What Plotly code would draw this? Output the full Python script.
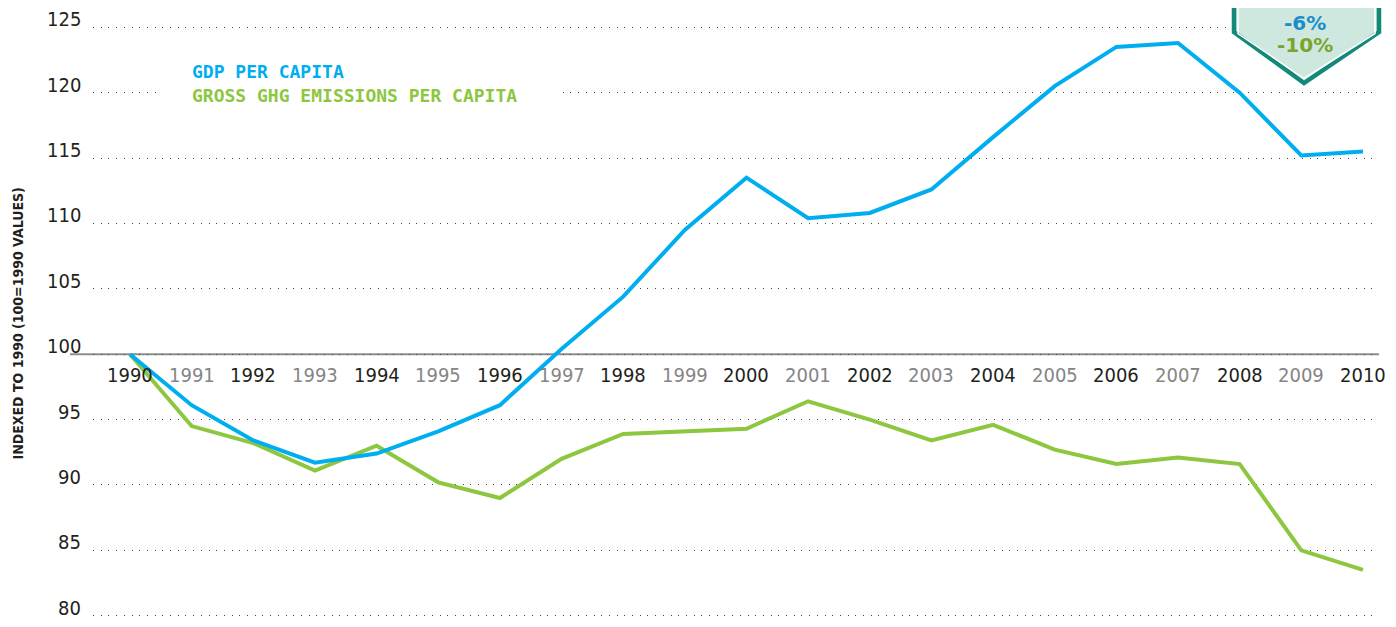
import plotly.graph_objects as go

years = list(range(1990, 2011))
gdp_per_capita = [100, 96.1, 93.4, 91.7, 92.4, 94.1, 96.1, 100.4, 104.4, 109.5, 113.5,
                  110.4, 110.8, 112.6, 116.6, 120.5, 123.5, 123.8, 120.0, 115.2, 115.5]
ghg_per_capita = [100, 94.5, 93.2, 91.1, 93.0, 90.2, 89.0, 92.0, 93.9, 94.1, 94.3,
                  96.4, 95.0, 93.4, 94.6, 92.7, 91.6, 92.1, 91.6, 85.0, 83.5]
y_ticks = [80, 85, 90, 95, 100, 105, 110, 115, 120, 125]
series_names = ["GDP PER CAPITA", "GROSS GHG EMISSIONS PER CAPITA"]
badge_texts = ["-6%", "-10%"]
y_title = "INDEXED TO 1990 (100=1990 VALUES)"

BLUE = "#00aeef"
GREEN = "#8dc63f"
NUM_FONT = "DejaVu Sans Condensed, Roboto, sans-serif"
LBL_FONT = "DejaVu Sans Mono, monospace"

fig = go.Figure()
fig.add_trace(go.Scatter(x=years, y=ghg_per_capita, mode="lines", name=series_names[1],
                         line=dict(color=GREEN, width=4), showlegend=False))
fig.add_trace(go.Scatter(x=years, y=gdp_per_capita, mode="lines", name=series_names[0],
                         line=dict(color=BLUE, width=4), showlegend=False))

OFF = 8  # page body margin
W, H = 1396 - 2 * OFF, 627 - OFF
L, R, T, B = 85, 9, 18, 10
pw, ph = W - L - R, H - T - B

def px_x(p):
    return (p - OFF - L) / pw

def px_y(p):
    return (H - B - (p - OFF)) / ph

shapes = []
shapes.append(dict(type="line", xref="paper", yref="y", x0=px_x(70), x1=1.0, y0=100, y1=100,
                   line=dict(color="#8c8c8c", width=2), layer="below"))
shapes.append(dict(type="rect", xref="paper", yref="paper", x0=px_x(160), x1=px_x(562),
                   y0=px_y(110), y1=px_y(58), fillcolor="white", line=dict(width=0), layer="above"))

def path(pts):
    return "M " + " L ".join(f"{px_x(a):.5f},{px_y(b):.5f}" for a, b in pts) + " Z"

outer = [(1234, -10), (1234, 32), (1304, 83), (1379, 32), (1379, -10)]
inner = [(1238, -10), (1238, 33.5), (1304, 78.5), (1375, 33.5), (1375, -10)]
shapes.append(dict(type="path", xref="paper", yref="paper", path=path(outer),
                   fillcolor="#cfe8df", line=dict(color="#13897a", width=4.5), layer="above"))
shapes.append(dict(type="path", xref="paper", yref="paper", path=path(inner),
                   fillcolor="rgba(0,0,0,0)", line=dict(color="white", width=1.5), layer="above"))

annotations = []
# y tick labels sitting on their gridlines
for v in y_ticks:
    annotations.append(dict(x=px_x(83), y=v, xref="paper", yref="y", text=str(v), showarrow=False,
                            xanchor="right", yanchor="middle", yshift=8,
                            font=dict(family=NUM_FONT, size=20, color="#231f20")))
for yr in years:
    even = yr % 2 == 0
    annotations.append(dict(x=yr, y=100, xref="x", yref="y", text=str(yr), showarrow=False,
                            xanchor="center", yanchor="middle", yshift=-21,
                            font=dict(family=NUM_FONT, size=20,
                                      color="#231f20" if even else "#858585")))
annotations.append(dict(x=px_x(190), y=px_y(72), xref="paper", yref="paper", text=series_names[0],
                        showarrow=False, xanchor="left", yanchor="middle",
                        font=dict(family=LBL_FONT, size=18, color=BLUE, weight="bold")))
annotations.append(dict(x=px_x(190), y=px_y(96), xref="paper", yref="paper", text=series_names[1],
                        showarrow=False, xanchor="left", yanchor="middle",
                        font=dict(family=LBL_FONT, size=18, color=GREEN, weight="bold")))
annotations.append(dict(x=px_x(17.5), y=px_y(324), xref="paper", yref="paper", text=y_title,
                        showarrow=False, textangle=-90, xanchor="center", yanchor="middle",
                        font=dict(family="DejaVu Sans Condensed, DejaVu Sans, sans-serif", size=14,
                                  color="#231f20", weight="bold")))
annotations.append(dict(x=px_x(1305), y=px_y(22.5), xref="paper", yref="paper", text=badge_texts[0],
                        showarrow=False, xanchor="center", yanchor="middle",
                        font=dict(family="DejaVu Sans, sans-serif", size=20, color="#1a8ec8", weight="bold")))
annotations.append(dict(x=px_x(1305), y=px_y(45), xref="paper", yref="paper", text=badge_texts[1],
                        showarrow=False, xanchor="center", yanchor="middle",
                        font=dict(family="DejaVu Sans, sans-serif", size=20, color="#7aa52d", weight="bold")))

fig.update_layout(
    width=W, height=H,
    margin=dict(l=L, r=R, t=T, b=B, pad=0, autoexpand=False),
    paper_bgcolor="white", plot_bgcolor="white",
    shapes=shapes, annotations=annotations,
    xaxis=dict(range=[1989.4, 2010.26], showgrid=False, zeroline=False, showticklabels=False,
               showline=False, ticks="", automargin=False),
    yaxis=dict(range=[79.9, 125.1], tickvals=y_ticks, showticklabels=False,
               showgrid=True, gridcolor="#444444", gridwidth=1.2, griddash="1px,6.7px",
               zeroline=False, showline=False, ticks="", automargin=False),
)

fig.write_html("out.html")
